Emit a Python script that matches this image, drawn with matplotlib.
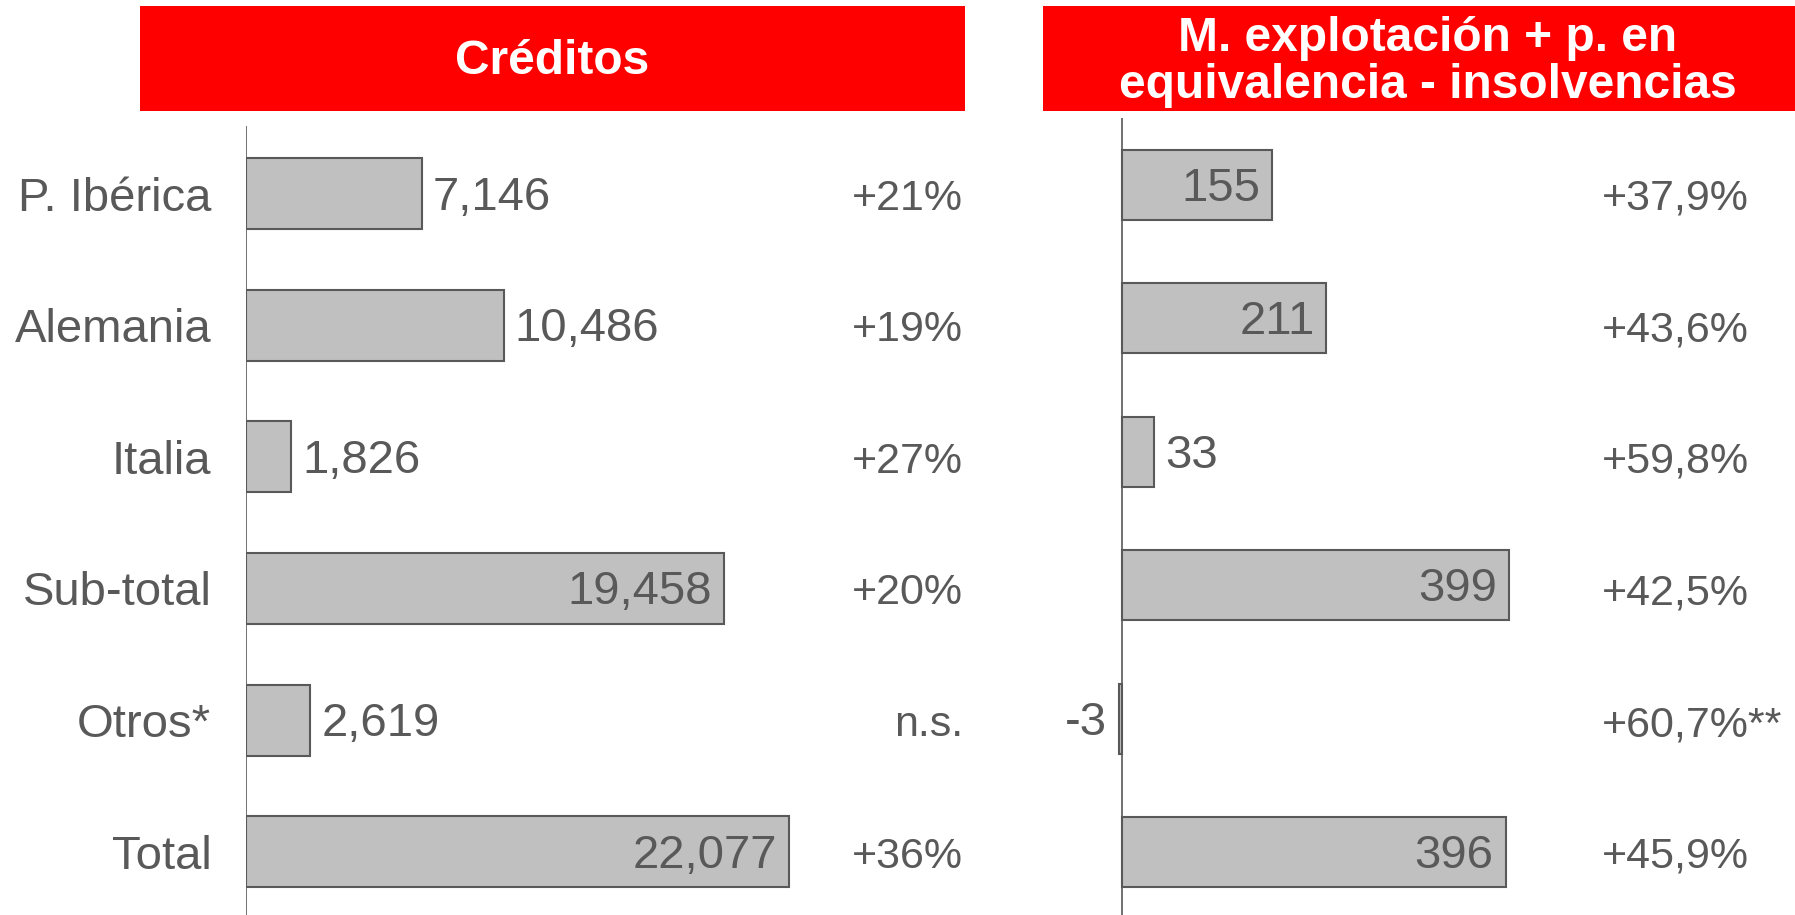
import matplotlib
matplotlib.use("Agg")
import matplotlib.pyplot as plt
import matplotlib.transforms as mtransforms

# data
categories = ["P. Ibérica", "Alemania", "Italia", "Sub-total", "Otros*", "Total"]
creditos = [7146, 10486, 1826, 19458, 2619, 22077]
creditos_var = ["+21%", "+19%", "+27%", "+20%", "n.s.", "+36%"]
margen = [155, 211, 33, 399, -3, 396]
margen_var = ["+37,9%", "+43,6%", "+59,8%", "+42,5%", "+60,7%**", "+45,9%"]
title_left = "Créditos"
title_right = "M. explotación + p. en\nequivalencia - insolvencias"

plt.rcParams["font.family"] = ["Liberation Sans", "DejaVu Sans"]
TXT = "#595959"
BAR = "#C0C0C0"
EDGE = "#595959"
RED = "#FF0000"
FS = 34
FS_VAR = 31

W, H = 1795, 915
fig = plt.figure(figsize=(W / 100, H / 100), dpi=100)


def px_axes(x0, y0, x1, y1):
    # pixel box (top-left origin) -> figure axes
    return fig.add_axes([x0 / W, 1 - y1 / H, (x1 - x0) / W, (y1 - y0) / H])


def header(x0, x1, text, dx=0.5):
    hx = px_axes(x0, 6, x1, 111)
    hx.set_facecolor(RED)
    hx.set_xticks([])
    hx.set_yticks([])
    for s in hx.spines.values():
        s.set_visible(False)
    hx.text(dx, 0.47, text, color="white", fontsize=34.5, fontweight="bold",
            ha="center", va="center", linespacing=1.05, transform=hx.transAxes)


def panel(ax, values, ylim, height, inside_min, labels=None):
    y = list(range(len(values)))
    ax.set_facecolor("none")
    ax.barh(y, values, height=height, color=BAR, edgecolor=EDGE, linewidth=1.5)
    ax.axvline(0, color=EDGE, linewidth=1.2)
    ax.set_ylim(*ylim)
    for s in ax.spines.values():
        s.set_visible(False)
    ax.set_xticks([])
    if labels:
        ax.set_yticks(y)
        ax.set_yticklabels(labels, fontsize=FS, color=TXT)
        ax.tick_params(axis="y", length=0, pad=25)
    else:
        ax.set_yticks([])
    for yi, v in zip(y, values):
        lbl = f"{v:,}"
        if v >= inside_min:
            ax.annotate(lbl, (v, yi), xytext=(-12, -4), textcoords="offset pixels",
                        ha="right", va="center", fontsize=FS, color=TXT)
        elif v >= 0:
            ax.annotate(lbl, (v, yi), xytext=(11, -4), textcoords="offset pixels",
                        ha="left", va="center", fontsize=FS, color=TXT)
        else:
            ax.annotate(lbl, (v, yi), xytext=(-12, -4), textcoords="offset pixels",
                        ha="right", va="center", fontsize=FS, color=TXT)


def var_column(ax, row_ax, labels, x_px, ha):
    # percentage column, rows aligned to the left panel
    tr = mtransforms.blended_transform_factory(fig.transFigure, row_ax.transData)
    for yi, t in enumerate(labels):
        ax.annotate(t, (x_px / W, yi), xycoords=tr, xytext=(0, -5),
                    textcoords="offset pixels", ha=ha, va="center",
                    fontsize=FS_VAR, color=TXT, annotation_clip=False)


# headers
header(140, 965, title_left)
header(1043, 1795, title_right, dx=0.512)

# left panel: creditos
axl = px_axes(246, 126, 965, 915)
axl.set_xlim(0, 719 / 0.02458)
panel(axl, creditos, (5.481, -0.513), 0.54, 15000, labels=categories)

# right panel: margen
axr = px_axes(1043, 118, 1795, 915)
axr.set_xlim(-(1122 - 1043) / 0.969, (1795 - 1122) / 0.969)
panel(axr, margen, (5.47, -0.501), 0.523, 100)

var_column(axl, axl, creditos_var, 963, "right")
var_column(axr, axl, margen_var, 1602, "left")

fig.savefig("out.png", dpi=100)
plt.close(fig)
